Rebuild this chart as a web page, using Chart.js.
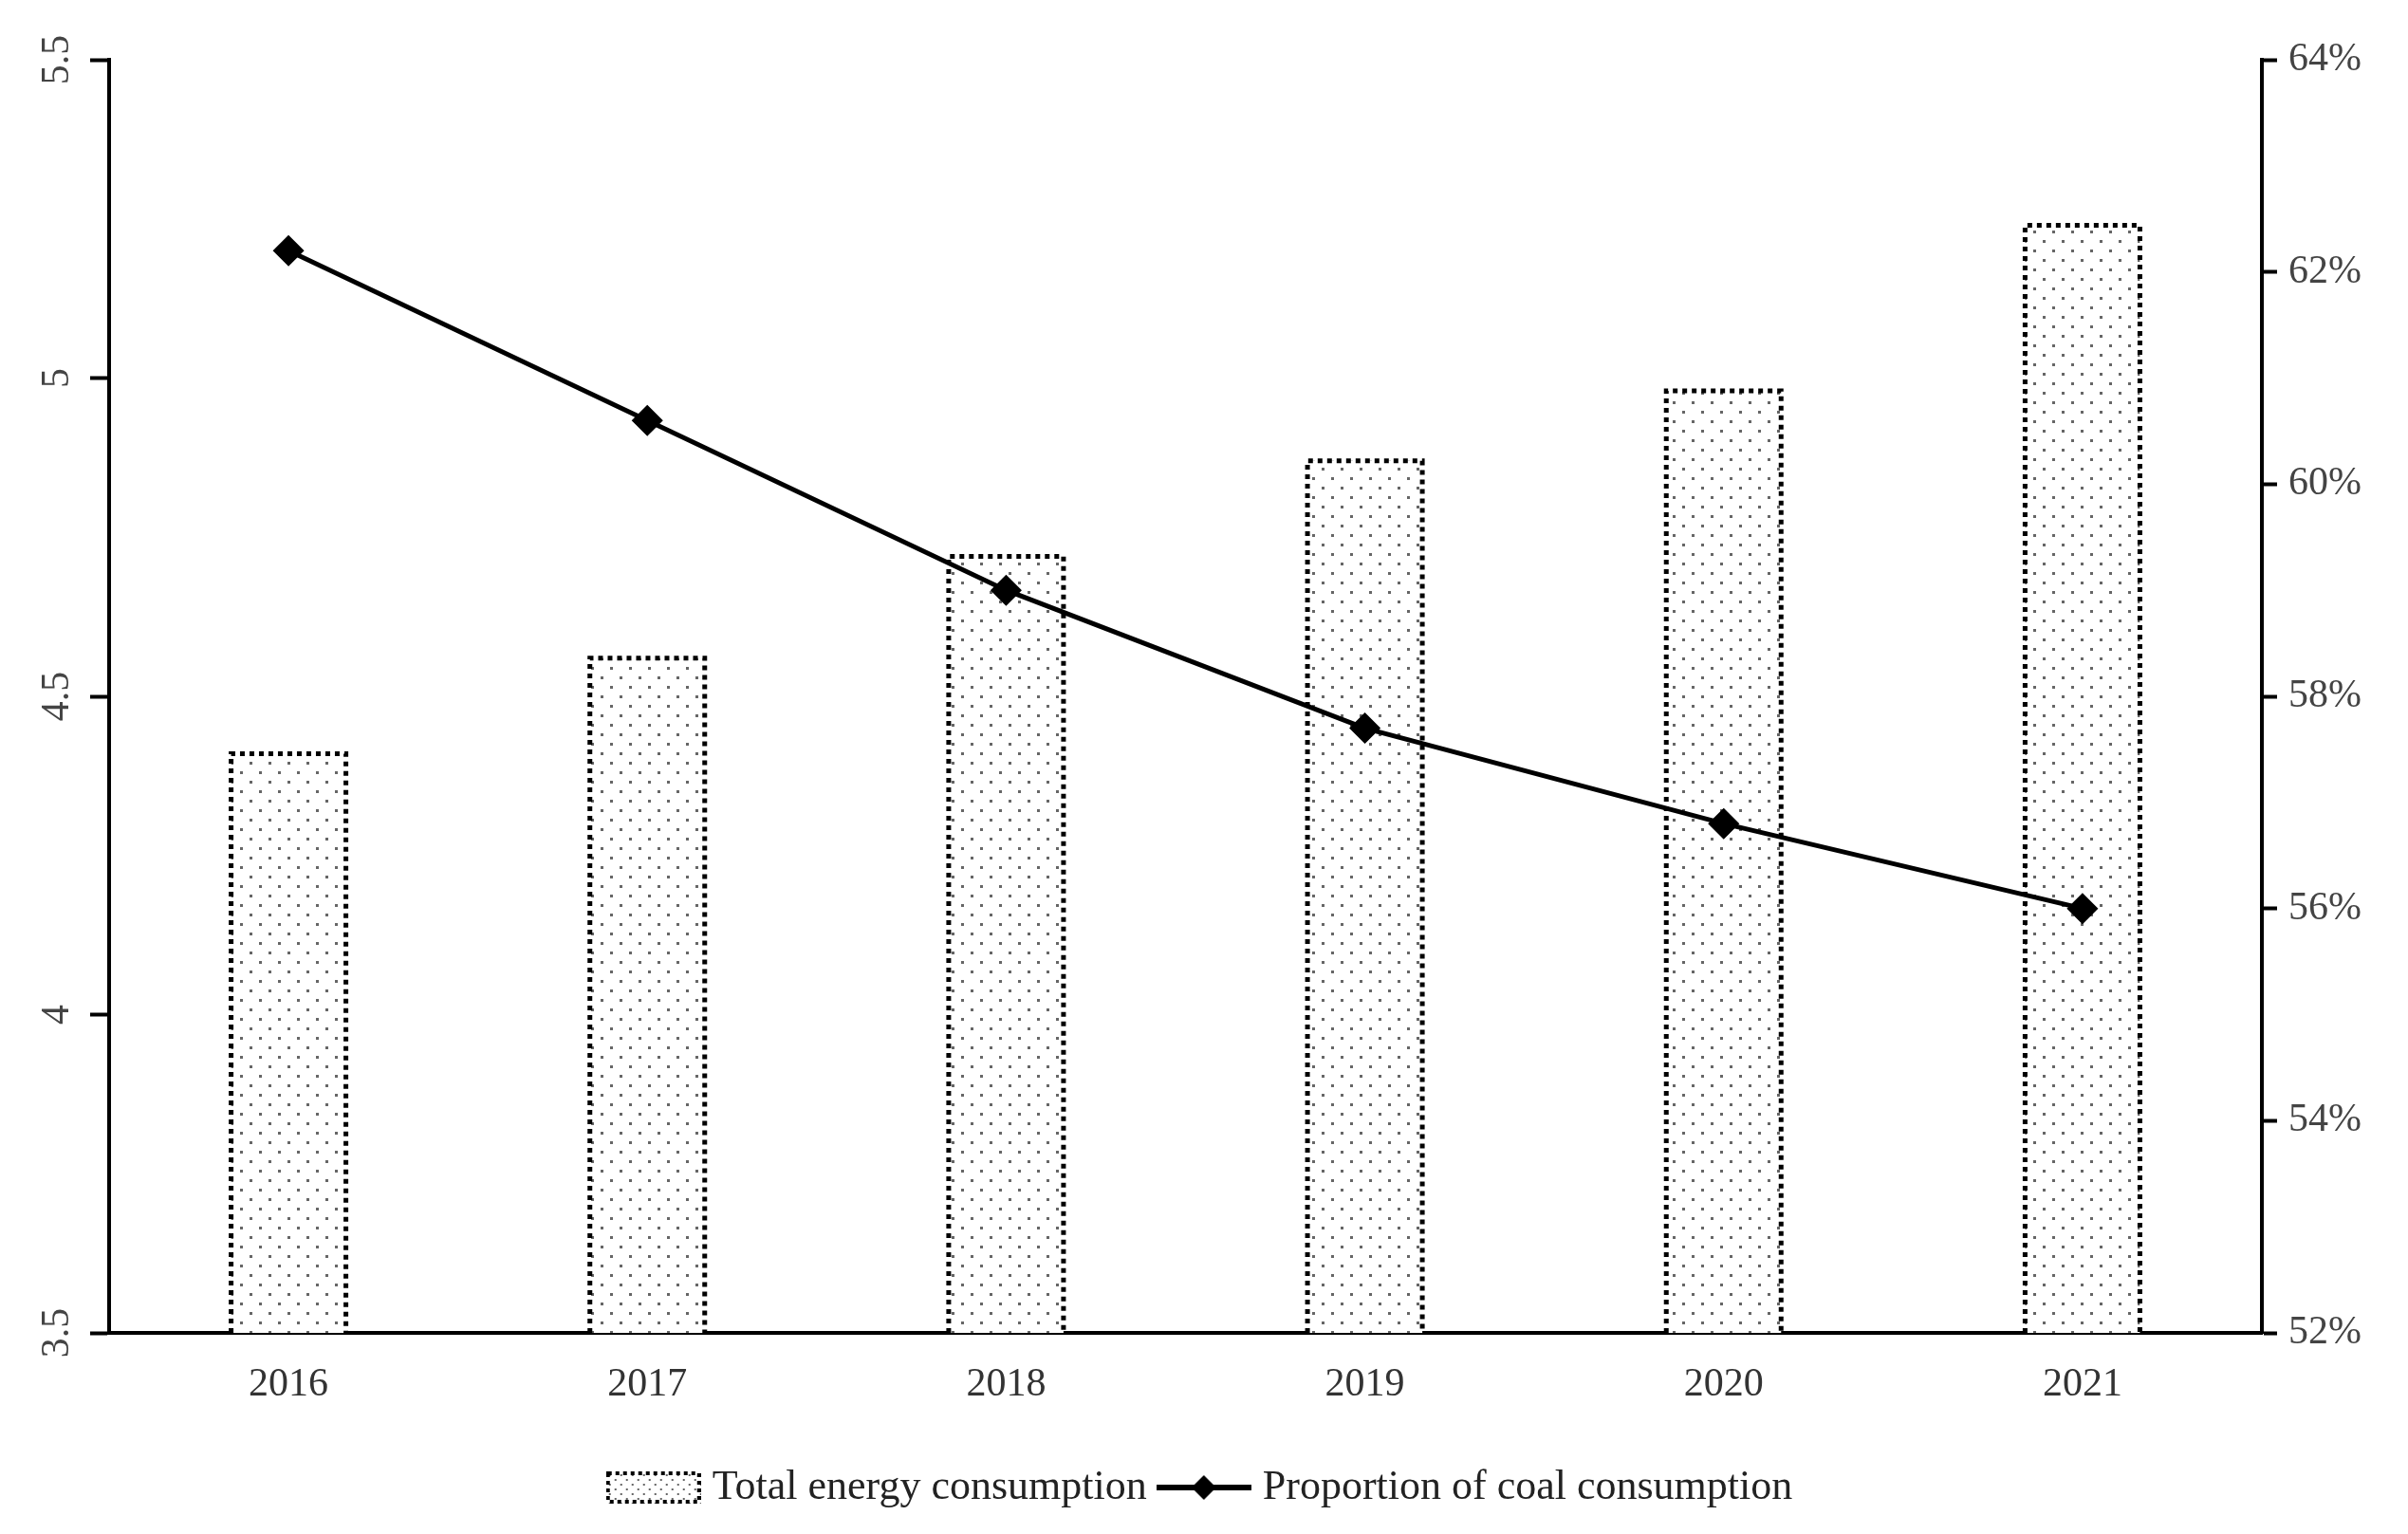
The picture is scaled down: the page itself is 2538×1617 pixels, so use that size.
<!DOCTYPE html>
<html>
<head>
<meta charset="utf-8">
<script src="https://cdn.jsdelivr.net/npm/chart.js@4/dist/chart.umd.min.js"></script>
<style>
  html, body { margin: 0; padding: 0; background: #fff; }
  #wrap { width: 2538px; height: 1617px; }
</style>
</head>
<body>
<div id="wrap"><canvas id="energyChart"></canvas></div>
<script>
const years = ['2016', '2017', '2018', '2019', '2020', '2021'];
const totalEnergy = [4.41, 4.56, 4.72, 4.87, 4.98, 5.24];
const coalShare = [62.2, 60.6, 59.0, 57.7, 56.8, 56.0];
const leftAxis = { min: 3.5, max: 5.5, step: 0.5 };
const rightAxis = { min: 52, max: 64, step: 2 };
const legendNames = ['Total energy consumption', 'Proportion of coal consumption'];

const FONT = 'Liberation Serif';

// dotted fill for the bars
function dotPattern(g, w, h, size) {
  let c = document.createElement('canvas');
  c.width = w; c.height = h;
  let p = c.getContext('2d');
  p.fillStyle = '#fff';
  p.fillRect(0, 0, w, h);
  p.fillStyle = '#666';
  p.fillRect(3, 3, size, size);
  p.fillRect(3 + w / 2, 3 + h / 2, size, size);
  return g.createPattern(c, 'repeat');
}

function legendBox() {
  let c = document.createElement('canvas');
  c.width = 100; c.height = 34;
  let g = c.getContext('2d');
  g.fillStyle = dotPattern(g, 12, 10, 2);
  g.fillRect(0, 0, 100, 34);
  g.strokeStyle = '#000';
  g.lineWidth = 4;
  g.setLineDash([4, 4]);
  g.strokeRect(2, 2, 96, 30);
  return c;
}

function legendLine() {
  let c = document.createElement('canvas');
  c.width = 100; c.height = 34;
  let g = c.getContext('2d');
  g.strokeStyle = '#000';
  g.lineWidth = 6;
  g.beginPath();
  g.moveTo(0, 17); g.lineTo(100, 17);
  g.stroke();
  g.fillStyle = '#000';
  g.beginPath();
  g.moveTo(50, 4); g.lineTo(63, 17); g.lineTo(50, 30); g.lineTo(37, 17);
  g.closePath();
  g.fill();
  return c;
}

// bars get a dotted black outline (no bottom edge)
const dottedBorder = {
  id: 'dottedBorder',
  afterDatasetDraw(chart, args) {
    if (args.index !== 0) return;
    let ctx = chart.ctx;
    let bottom = chart.chartArea.bottom;
    ctx.save();
    ctx.strokeStyle = '#000';
    ctx.lineWidth = 5;
    ctx.setLineDash([5, 5]);
    args.meta.data.forEach(bar => {
      let p = bar.getProps(['x', 'y', 'base', 'width'], true);
      let l = p.x - p.width / 2, r = p.x + p.width / 2;
      let b = Math.min(p.base, bottom);
      ctx.beginPath();
      ctx.moveTo(l, b);
      ctx.lineTo(l, p.y);
      ctx.lineTo(r, p.y);
      ctx.lineTo(r, b);
      ctx.stroke();
    });
    ctx.restore();
  }
};

const tickFont = { family: FONT, size: 42 };

let ctx = document.getElementById('energyChart');
let myChart = new Chart(ctx, {
  type: 'bar',
  data: {
    labels: years,
    datasets: [{
      label: legendNames[0],
      data: totalEnergy,
      yAxisID: 'y',
      backgroundColor: dotPattern(ctx.getContext('2d'), 20, 20, 3),
      borderWidth: 0,
      categoryPercentage: 1,
      barPercentage: 0.32,
      order: 1
    }, {
      type: 'line',
      label: legendNames[1],
      data: coalShare,
      yAxisID: 'y1',
      borderColor: '#000',
      borderWidth: 5,
      pointStyle: 'rectRot',
      pointRadius: 13,
      pointBackgroundColor: '#000',
      pointBorderColor: '#000',
      tension: 0,
      order: 0
    }]
  },
  options: {
    responsive: true,
    maintainAspectRatio: false,
    animation: { duration: 0 },
    layout: { padding: { top: 63, left: 0, right: 0, bottom: 17 } },
    plugins: {
      tooltip: { enabled: false },
      legend: {
        position: 'bottom',
        labels: {
          usePointStyle: true,
          pointStyleWidth: 80,
          boxHeight: 34,
          padding: 20,
          color: '#222',
          font: { family: FONT, size: 44 },
          generateLabels(chart) {
            let icons = [legendBox(), legendLine()];
            return chart.data.datasets.map((ds, i) => ({
              text: ds.label,
              pointStyle: icons[i],
              datasetIndex: i,
              hidden: false,
              lineWidth: 0,
              fontColor: '#222'
            }));
          }
        }
      }
    },
    scales: {
      x: {
        grid: { display: false, drawTicks: false },
        border: { display: true, color: '#000', width: 4 },
        ticks: { color: '#333', font: tickFont, padding: 30, maxRotation: 0 },
        afterFit(scale) { scale.height = 121; }
      },
      y: {
        position: 'left',
        min: leftAxis.min,
        max: leftAxis.max,
        grid: { drawOnChartArea: false, drawTicks: true, tickLength: 20, tickWidth: 4, tickColor: '#000' },
        border: { display: true, color: '#000', width: 4 },
        ticks: {
          stepSize: leftAxis.step,
          color: '#444',
          font: tickFont,
          padding: 8,
          minRotation: 90,
          maxRotation: 90,
          crossAlign: 'center',
          callback: v => String(v)
        },
        afterFit(scale) { scale.width = 115; }
      },
      y1: {
        position: 'right',
        min: rightAxis.min,
        max: rightAxis.max,
        grid: { drawOnChartArea: false, drawTicks: true, tickLength: 16, tickWidth: 4, tickColor: '#000' },
        border: { display: true, color: '#000', width: 4 },
        ticks: {
          stepSize: rightAxis.step,
          color: '#444',
          font: tickFont,
          padding: 12,
          callback: v => v + '%'
        },
        afterFit(scale) { scale.width = 154; }
      }
    }
  },
  plugins: [dottedBorder]
});
</script>
</body>
</html>
